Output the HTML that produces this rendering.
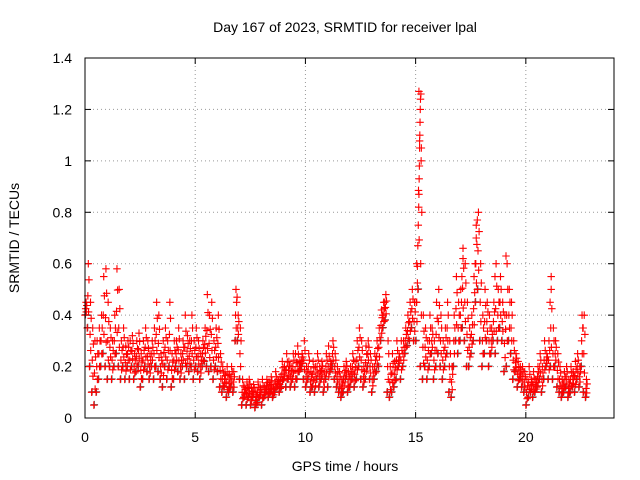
<!DOCTYPE html>
<html><head><meta charset="utf-8"><style>
html,body{margin:0;padding:0;background:#fff;}
svg{display:block;font-family:"Liberation Sans",sans-serif;}
</style></head><body>
<svg id="chart" width="640" height="480" viewBox="0 0 640 480" xmlns="http://www.w3.org/2000/svg">
<text x="345" y="32" font-size="14" text-anchor="middle">Day 167 of 2023, SRMTID for receiver lpal</text>
<text x="345" y="471" font-size="14" text-anchor="middle">GPS time / hours</text>
<text transform="translate(19,238) rotate(-90)" font-size="14" text-anchor="middle">SRMTID / TECUs</text>
<g id="grid"></g>
<g id="ticks"></g>
<g id="gray"></g>
<g id="red"></g>
<rect x="85" y="58" width="529" height="360" fill="none" stroke="#000" stroke-width="1"/>
</svg>
<script>
const xTicks = [0,5,10,15,20];
const yTicks = [0,0.2,0.4,0.6,0.8,1,1.2,1.4];
const yTickLabels = ["0","0.2","0.4","0.6","0.8","1","1.2","1.4"];
const tStart = 0, tStep = 0.1;
const lows = [0.40,0.35,0.2,0.1,0.05,0.1,0.15,0.2,0.25,0.2,
0.15,0.2,0.15,0.2,0.25,0.2,0.15,0.2,0.15,0.2,
0.15,0.2,0.15,0.18,0.2,0.12,0.15,0.2,0.18,0.15,
0.2,0.15,0.2,0.18,0.15,0.12,0.2,0.15,0.2,0.12,
0.15,0.2,0.18,0.15,0.2,0.15,0.2,0.18,0.2,0.15,
0.2,0.18,0.15,0.2,0.22,0.2,0.18,0.2,0.15,0.2,
0.18,0.12,0.1,0.12,0.08,0.1,0.12,0.1,0.3,0.3,
0.15,0.05,0.08,0.05,0.08,0.05,0.08,0.04,0.06,0.08,
0.05,0.08,0.1,0.08,0.1,0.08,0.1,0.12,0.1,0.12,
0.15,0.12,0.15,0.12,0.15,0.12,0.15,0.18,0.2,0.15,
0.12,0.15,0.1,0.12,0.1,0.15,0.12,0.15,0.1,0.15,
0.12,0.18,0.2,0.15,0.12,0.1,0.08,0.1,0.15,0.1,
0.12,0.15,0.12,0.15,0.2,0.15,0.12,0.15,0.2,0.15,
0.1,0.15,0.18,0.2,0.3,0.35,0.38,0.1,0.08,0.1,
0.12,0.15,0.2,0.15,0.2,0.25,0.28,0.3,0.35,0.3,
0.3,0.5,0.2,0.15,0.2,0.15,0.2,0.25,0.15,0.2,
0.25,0.2,0.15,0.2,0.25,0.1,0.08,0.2,0.3,0.25,
0.3,0.35,0.3,0.2,0.2,0.25,0.3,0.45,0.5,0.3,
0.2,0.25,0.3,0.2,0.25,0.3,0.25,0.3,0.35,0.3,
0.18,0.2,0.3,0.25,0.15,0.18,0.12,0.15,0.12,0.1,
0.05,0.08,0.1,0.08,0.1,0.12,0.15,0.1,0.15,0.2,
0.15,0.2,0.15,0.2,0.12,0.1,0.08,0.1,0.12,0.08,
0.1,0.12,0.1,0.15,0.12,0.2,0.1,0.08];
const highs = [0.45,0.6,0.45,0.35,0.3,0.3,0.35,0.4,0.55,0.58,
0.45,0.35,0.3,0.4,0.58,0.5,0.3,0.35,0.28,0.3,
0.3,0.32,0.25,0.3,0.33,0.25,0.3,0.35,0.3,0.25,
0.3,0.35,0.45,0.4,0.25,0.3,0.35,0.3,0.45,0.25,
0.3,0.3,0.35,0.25,0.3,0.4,0.32,0.3,0.4,0.3,
0.35,0.3,0.25,0.3,0.35,0.48,0.4,0.45,0.3,0.35,
0.4,0.25,0.2,0.18,0.2,0.17,0.2,0.18,0.5,0.4,
0.35,0.15,0.12,0.14,0.15,0.12,0.13,0.1,0.14,0.12,
0.15,0.12,0.15,0.14,0.16,0.12,0.18,0.15,0.16,0.22,
0.2,0.25,0.22,0.2,0.25,0.25,0.28,0.22,0.25,0.3,
0.2,0.25,0.18,0.22,0.2,0.25,0.2,0.22,0.18,0.25,
0.28,0.22,0.3,0.25,0.2,0.18,0.15,0.2,0.22,0.18,
0.2,0.25,0.22,0.3,0.35,0.3,0.2,0.28,0.3,0.25,
0.2,0.25,0.3,0.35,0.42,0.45,0.48,0.3,0.2,0.25,
0.22,0.3,0.25,0.3,0.3,0.35,0.4,0.45,0.5,0.45,
0.6,1.27,1.0,0.4,0.35,0.3,0.4,0.35,0.3,0.45,
0.5,0.4,0.3,0.35,0.45,0.3,0.2,0.4,0.55,0.45,
0.5,0.66,0.6,0.45,0.35,0.4,0.55,0.75,0.8,0.6,
0.4,0.5,0.45,0.4,0.35,0.45,0.6,0.5,0.55,0.45,
0.4,0.6,0.5,0.45,0.3,0.25,0.22,0.2,0.2,0.18,
0.15,0.2,0.15,0.18,0.15,0.2,0.25,0.2,0.3,0.25,
0.3,0.5,0.35,0.3,0.25,0.2,0.15,0.18,0.2,0.15,
0.2,0.18,0.22,0.25,0.2,0.4,0.4,0.15];
const spikeTimes = [15.05,15.08,15.1,15.12,15.14,15.15,15.16,15.17,15.18,15.19,15.2,15.21,15.22,15.24,15.26,17.1,17.15,17.7,17.75,17.8,18.6,19.1,21.1,21.15,6.9,13.5,13.6,22.6];
const spikeValues = [0.45,0.59,0.67,0.75,0.82,0.87,0.93,0.98,1.05,1.1,1.15,1.2,1.24,1.26,1.05,0.55,0.62,0.6,0.7,0.77,0.55,0.63,0.45,0.55,0.47,0.4,0.45,0.35];

const L=85,R=614,T=58,B=418,XMAX=24,YMAX=1.4;
const xs=v=>L+(v/XMAX)*(R-L);
const ys=v=>B-(v/YMAX)*(B-T);
const NS="http://www.w3.org/2000/svg";
function mk(tag,attrs,parent){const e=document.createElementNS(NS,tag);for(const k in attrs)e.setAttribute(k,attrs[k]);parent.appendChild(e);return e;}
const grid=document.getElementById('grid'),ticks=document.getElementById('ticks');
xTicks.forEach(v=>{
  const x=xs(v);
  if(v>0){const g=mk('line',{x1:x,x2:x,y1:T,y2:B,stroke:'#999','stroke-dasharray':'1,3'},grid);
  
  }
  const t=mk('line',{x1:x,x2:x,y1:B,y2:B-6,stroke:'#000'},ticks);
  
  
  const t2=mk('line',{x1:x,x2:x,y1:T,y2:T+6,stroke:'#000'},ticks);
  
  
  const lb=mk('text',{x:x,y:B+24,'font-size':14,'text-anchor':'middle'},ticks);
  lb.textContent=String(v);
  
  
});
yTicks.forEach((v,i)=>{
  const y=ys(v);
  if(v>0&&v<YMAX){const g=mk('line',{x1:L,x2:R,y1:y,y2:y,stroke:'#999','stroke-dasharray':'1,3'},grid);
  
  }
  const t=mk('line',{x1:L,x2:L+6,y1:y,y2:y,stroke:'#000'},ticks);
  
  
  const t2=mk('line',{x1:R,x2:R-6,y1:y,y2:y,stroke:'#000'},ticks);
  
  
  const lb=mk('text',{x:L-13,y:y+5,'font-size':14,'text-anchor':'end'},ticks);
  lb.textContent=yTickLabels[i];
  
  
});
function plus(parent,x,y,color){
  const p=mk('path',{d:`M${x-3.75},${y}h7.5M${x},${y-3.75}v7.5`,stroke:color,'stroke-width':1.1,fill:'none'},parent);
  
  
}
const gray=document.getElementById('gray'),red=document.getElementById('red');
lows.forEach((lo,i)=>{
  const t=tStart+i*tStep, hi=highs[i];
  plus(gray,xs(t)+0.5,ys(lo)-0.5,'#555');
  const fr=[0,0.25,0.5,0.75,1], dt=[0,0.6,0.3,0.8,0.5];
  fr.forEach((f,k)=>{
    plus(red,xs(t+tStep*dt[k]),ys(lo+(hi-lo)*f),'#ff0000');
  });
});
spikeTimes.forEach((t,i)=>{
  plus(red,xs(t),ys(spikeValues[i]),'#ff0000');
});
</script>
</body></html>
